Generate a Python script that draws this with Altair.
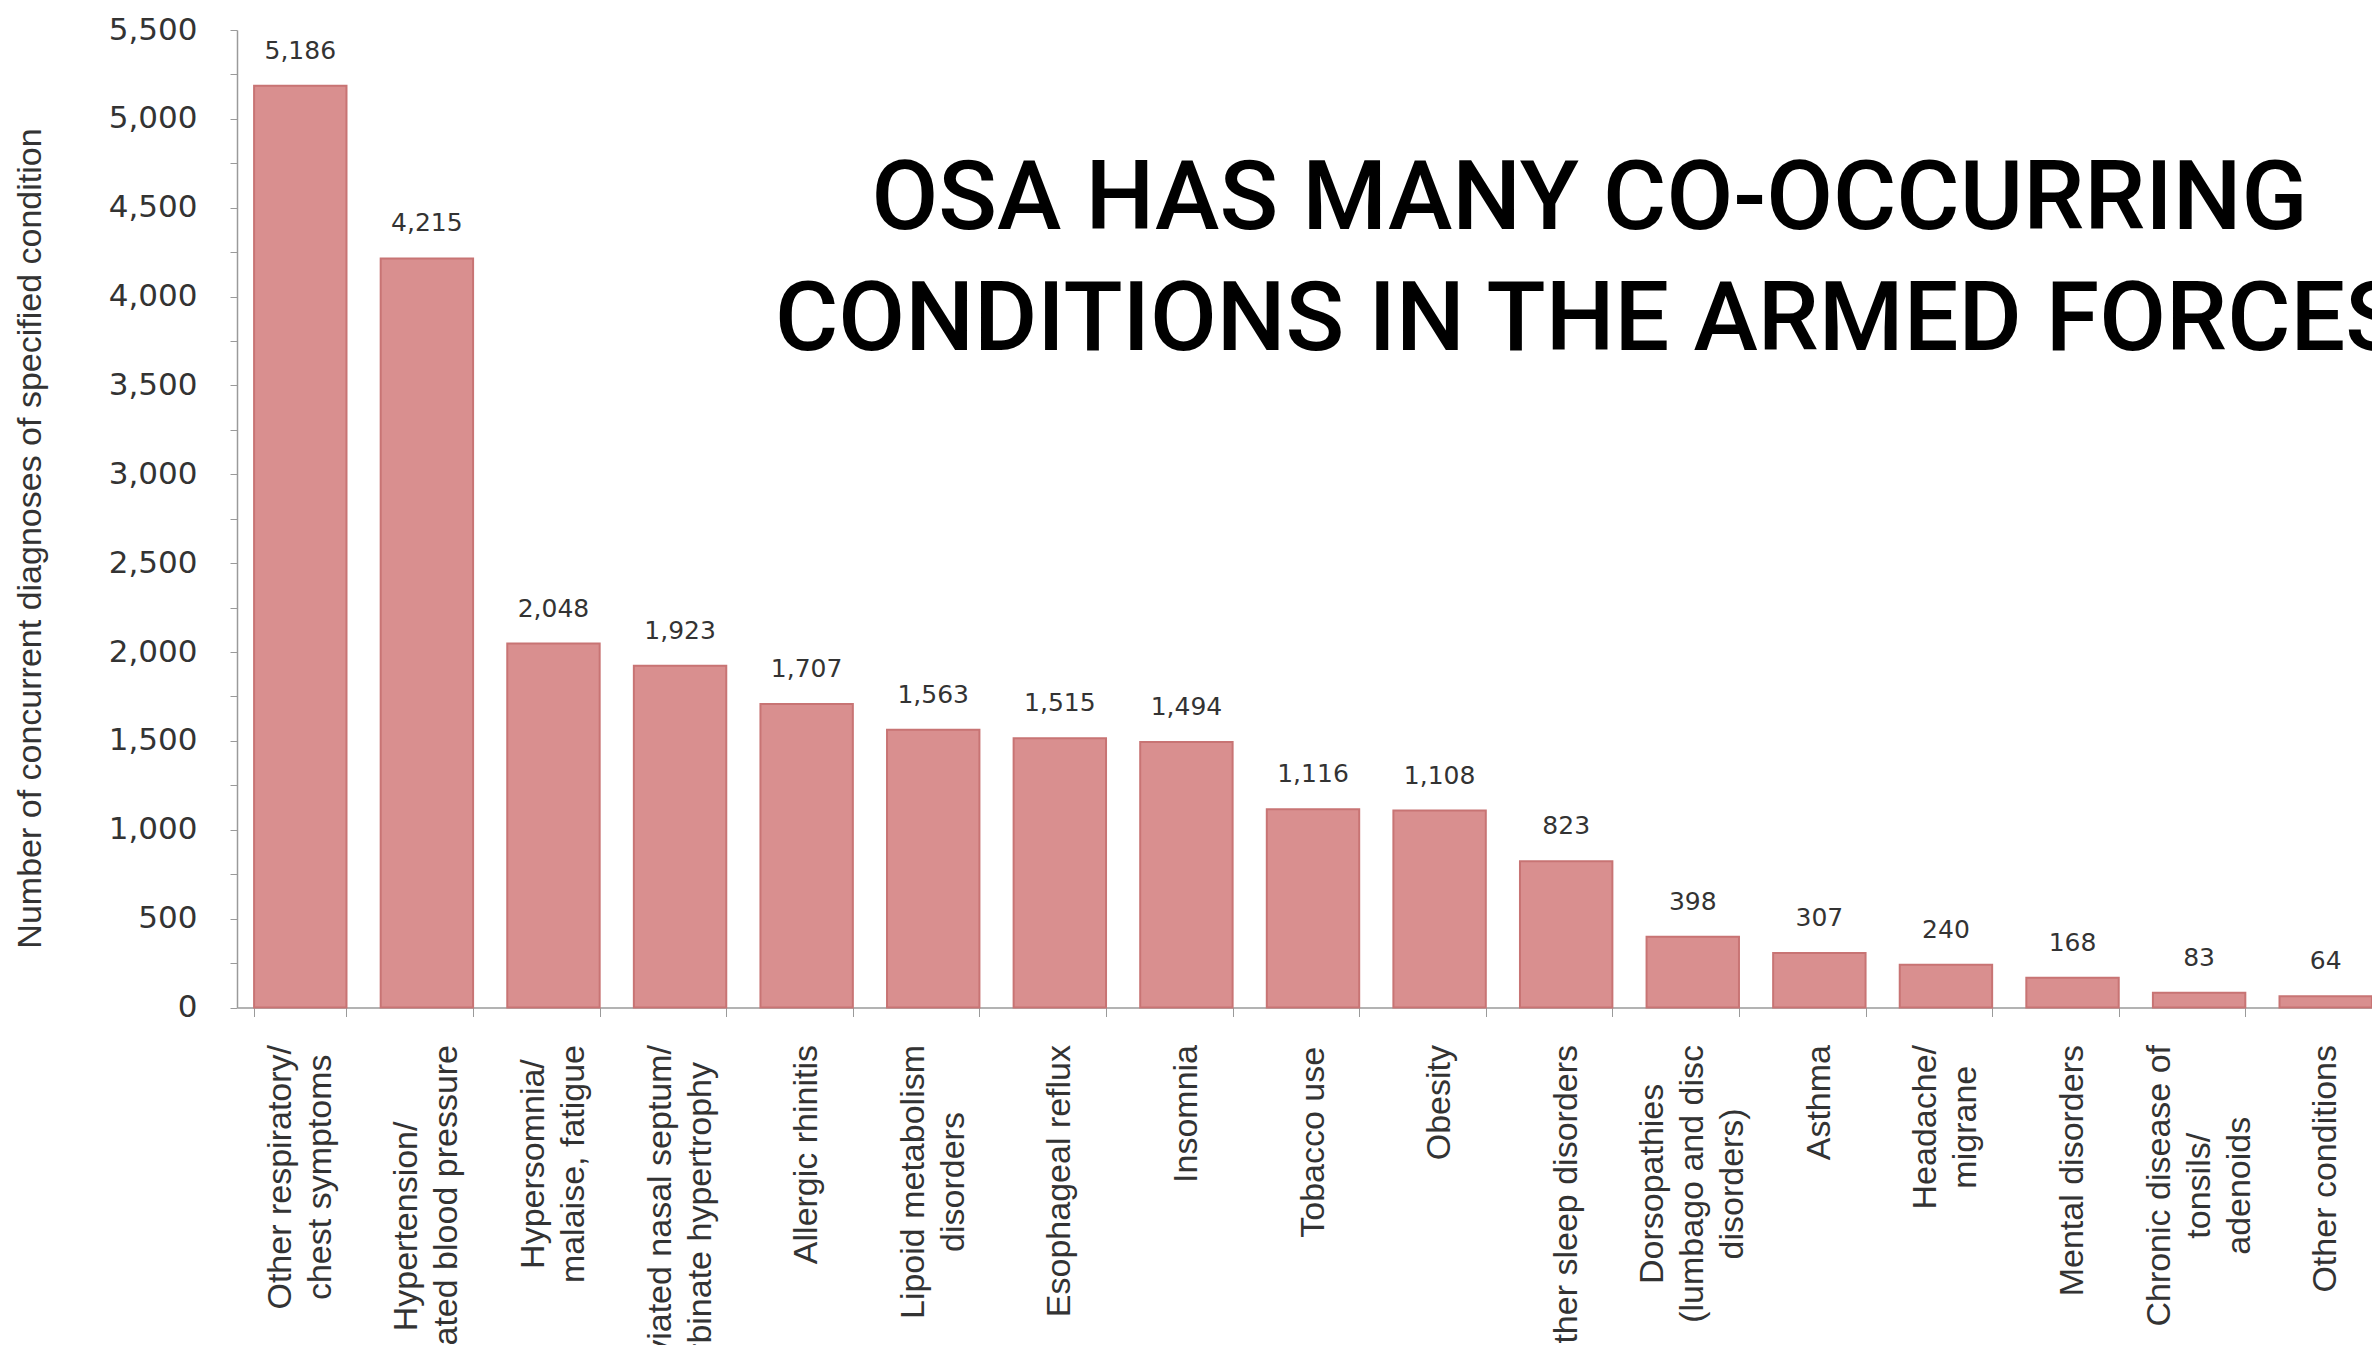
import json
import altair as alt
import pandas as pd

conditions = [
    "Other respiratory/\nchest symptoms",
    "Hypertension/\nelevated blood pressure",
    "Hypersomnia/\nmalaise, fatigue",
    "Deviated nasal septum/\nturbinate hypertrophy",
    "Allergic rhinitis",
    "Lipoid metabolism\ndisorders",
    "Esophageal reflux",
    "Insomnia",
    "Tobacco use",
    "Obesity",
    "Other sleep disorders",
    "Dorsopathies\n(lumbago and disc\ndisorders)",
    "Asthma",
    "Headache/\nmigrane",
    "Mental disorders",
    "Chronic disease of\ntonsils/\nadenoids",
    "Other conditions",
]
counts = [5186, 4215, 2048, 1923, 1707, 1563, 1515, 1494, 1116, 1108, 823, 398, 307, 240, 168, 83, 64]
title_lines = ["OSA HAS MANY CO-OCCURRING", "CONDITIONS IN THE ARMED FORCES"]
y_title = "Number of concurrent diagnoses of specified condition"
y_ticks = list(range(0, 5501, 250))

df = pd.DataFrame({"condition": conditions, "count": counts})

# Approximate Arial/Liberation Sans advance widths (per em) to centre the
# lines of each multi-line label inside a block that starts at the axis.
LABEL_SIZE = 34
LINE_H = 40
_w = {
    " ": .278, "/": .278, ",": .278, "(": .333, ")": .333, "-": .333,
    "a": .556, "b": .556, "c": .5, "d": .556, "e": .556, "f": .278, "g": .556,
    "h": .556, "i": .222, "j": .222, "k": .5, "l": .222, "m": .833, "n": .556,
    "o": .556, "p": .556, "q": .556, "r": .333, "s": .5, "t": .278, "u": .556,
    "v": .5, "w": .722, "x": .5, "y": .5, "z": .5,
    "A": .667, "B": .667, "C": .722, "D": .722, "E": .667, "F": .611, "G": .778,
    "H": .722, "I": .278, "L": .556, "M": .833, "N": .722, "O": .778, "P": .667,
    "R": .722, "S": .667, "T": .611, "U": .722, "Y": .667,
}


def text_w(s):
    return sum(_w.get(ch, .556) for ch in s) * LABEL_SIZE


pad_conds = []
off_conds = []
for c in conditions:
    lines = c.split("\n")
    test = "datum.value == " + json.dumps(c)
    pad_conds.append({"test": test, "value": 28 + max(text_w(l) for l in lines) / 2})
    off_conds.append({"test": test, "value": -(len(lines) - 1) * LINE_H / 2})

x_enc = alt.X(
    "condition:N",
    sort=None,
    scale=alt.Scale(paddingInner=0.27, paddingOuter=0.135, range=[0, 2152]),
    axis=alt.Axis(
        title=None,
        labelAngle=270,
        labelAlign="center",
        labelBaseline="middle",
        labelFont="Liberation Sans",
        labelFontSize=LABEL_SIZE,
        labelLineHeight=LINE_H,
        labelColor="#333333",
        labelPadding={"condition": pad_conds, "value": 28},
        labelOffset={"condition": off_conds, "value": 0},
        labelLimit=1000,
        labelOverlap=False,
        labelExpr="split(datum.label, '\\n')",
        tickBand="extent",
        tickSize=9,
        tickColor="#9a9a9a",
        domainColor="#9a9a9a",
        domainWidth=1.5,
    ),
)
y_enc = alt.Y(
    "count:Q",
    scale=alt.Scale(domain=[0, 5500], nice=False),
    axis=alt.Axis(
        values=y_ticks,
        labelExpr="datum.value % 500 == 0 ? format(datum.value, ',') : ''",
        tickSize=7,
        labelPadding=33,
        labelFont="DejaVu Sans",
        labelFontSize=31,
        labelColor="#333333",
        labelOverlap=False,
        tickColor="#9a9a9a",
        domainColor="#9a9a9a",
        domainWidth=1.5,
        grid=False,
        title=y_title,
        titleFont="Liberation Sans",
        titleFontSize=34,
        titleFontWeight="normal",
        titleColor="#333333",
        titleAngle=270,
        titleAlign="center",
        titleBaseline="middle",
        titleX=-207,
        titleY=508,
    ),
)

base = alt.Chart(df).encode(x=x_enc, y=y_enc)
bars = base.mark_bar(fill="#d98f8f", stroke="#c87474", strokeWidth=2)
labels = base.mark_text(
    dy=-35, font="DejaVu Sans", fontSize=25, color="#333333", baseline="middle"
).encode(text=alt.Text("count:Q", format=","))

chart = (
    (bars + labels)
    .properties(
        width=2135,
        height=977.5,
        title=alt.TitleParams(
            text=title_lines,
            font="Roboto",
            fontSize=97,
            fontWeight=500,
            color="#000000",
            anchor="middle",
            frame="group",
            dx=285,
            dy=356,
            baseline="top",
            lineHeight=121,
            offset=0,
        ),
        autosize=alt.AutoSizeParams(type="none"),
        padding={"left": 237, "top": 30, "right": 0, "bottom": 337.5},
        background="#ffffff",
    )
    .configure_view(strokeWidth=0)
)

chart.save("out.html", embed_options={"renderer": "svg", "actions": False})
